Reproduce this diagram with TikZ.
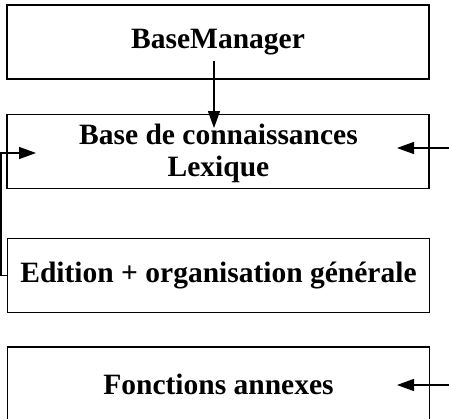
\documentclass[tikz,border=0pt]{standalone}
\usepackage{fontspec}
\setmainfont{Liberation Serif}
\usetikzlibrary{arrows.meta}
\begin{document}
\begin{tikzpicture}[x=1pt,y=-1pt,
  box/.style={draw, line width=1.3pt, inner sep=0pt, minimum width=422pt, minimum height=74pt,
    font=\bfseries\fontsize{29.5}{32}\selectfont, align=center},
  arr/.style={line width=1.3pt, -{Triangle[length=17pt,width=12pt]}}]
\useasboundingbox (0,0) rectangle (449,418);
\clip (0,0) rectangle (449,418);
\node[box] (bm) at (218,42) {BaseManager};
\node[box] (bc) at (218,151.5) {};
\node[font=\bfseries\fontsize{29.5}{32}\selectfont, align=center, inner sep=0pt] (bct) at (218.5,153) {Base de connaissances\\Lexique};
\node[box] (ed) at (218.5,275.5) {Edition + organisation générale};
\node[box] (fa) at (218.5,384) {Fonctions annexes};
\coordinate (bmS) at (214,61);
\coordinate (bcT) at (214,128);
\draw[arr] (bmS) -- (bcT);
\coordinate (lc) at (1,275.5);
\coordinate (lt) at (36,153);
\draw[arr] (ed.west) -- (lc) |- (lt);
\coordinate (r2s) at (449,148);
\coordinate (r2t) at (397,148);
\draw[arr] (r2s) -- (r2t);
\coordinate (r4s) at (449,385);
\coordinate (r4t) at (397,385);
\draw[arr] (r4s) -- (r4t);
\end{tikzpicture}
\end{document}
